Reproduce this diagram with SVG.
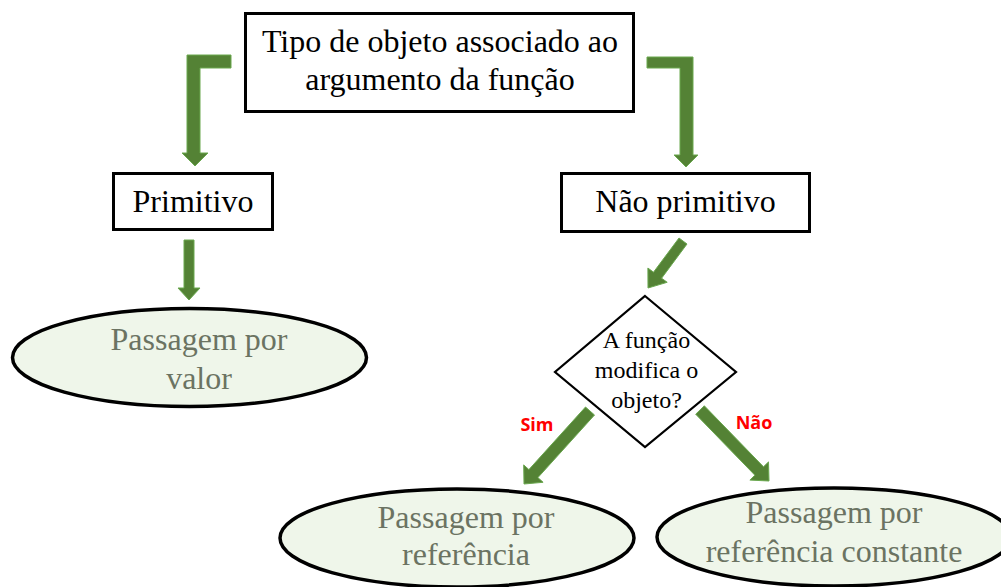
<svg xmlns="http://www.w3.org/2000/svg" width="1001" height="587" viewBox="0 0 1001 587">
<style>
.box{fill:#fff;stroke:#000;stroke-width:3}
.ell{fill:#eff6ea;stroke:#000;stroke-width:3.5}
.dia{fill:#fff;stroke:#000;stroke-width:2.2}
.t{font-family:"Liberation Serif","Times New Roman",serif;font-size:32px;fill:#000;text-anchor:middle}
.tg{font-family:"Liberation Serif","Times New Roman",serif;font-size:32px;fill:#6b7362;text-anchor:middle}
.td{font-family:"Liberation Serif","Times New Roman",serif;font-size:24px;fill:#000;text-anchor:middle}
.lbl{font-family:"Open Sans","Liberation Sans",Arial,sans-serif;font-size:18px;font-weight:bold;fill:#ff0000;text-anchor:middle}
.arr{fill:#548235;stroke:#6aa84f;stroke-width:1}
</style>
<g id="connectors">
<polygon class="arr" points="231,55 187,55 187,153 182,153 195,166 208,153 200,153 200,68 231,68"/>
<polygon class="arr" points="647,57 693,57 693,155 698,155 686,167 674,155 680,155 680,68 647,68"/>
<polygon class="arr" points="184,240 194,240 194,288 200,288 189,300 178,288 184,288"/>
<polygon class="arr" points="679,238 653.5,272.2 647.9,268 648,288 667.2,282.3 661.6,278.2 687,244"/>
<polygon class="arr" points="585.5,407 528.9,469.6 523.7,464.9 524,484 543.1,482.3 537.9,477.6 594.5,415"/>
<polygon class="arr" points="704.3,405.8 763.5,466.8 768.5,461.9 769,481 749.9,480.1 754.9,475.2 695.7,414.2"/>
<text class="lbl" x="537" y="431">Sim</text>
<text class="lbl" x="754" y="429">Não</text>
</g>
<g id="n-tipo">
<rect class="box" x="245.5" y="13.5" width="388" height="98"/>
<text class="t" x="440" y="52">Tipo de objeto associado ao</text>
<text class="t" x="440" y="90">argumento da função</text>
</g>
<g id="n-primitivo">
<rect class="box" x="113.5" y="173.5" width="159" height="56"/>
<text class="t" x="193" y="212">Primitivo</text>
</g>
<g id="n-nao-primitivo">
<rect class="box" x="561.5" y="173.5" width="248" height="58"/>
<text class="t" x="685.5" y="212">Não primitivo</text>
</g>
<g id="n-valor">
<ellipse class="ell" cx="189.5" cy="357.5" rx="177" ry="49"/>
<text class="tg" x="199" y="350">Passagem por</text>
<text class="tg" x="199" y="389">valor</text>
</g>
<g id="n-decisao">
<polygon class="dia" points="645,296 736,372 645,447 555,372"/>
<text class="td" x="646.5" y="348">A função</text>
<text class="td" x="646.5" y="378">modifica o</text>
<text class="td" x="646.5" y="408">objeto?</text>
</g>
<g id="n-referencia">
<ellipse class="ell" cx="457" cy="538" rx="177" ry="49"/>
<text class="tg" x="466" y="528">Passagem por</text>
<text class="tg" x="466" y="565">referência</text>
</g>
<g id="n-referencia-constante">
<ellipse class="ell" cx="834" cy="537" rx="177" ry="49"/>
<text class="tg" x="834" y="523">Passagem por</text>
<text class="tg" x="834" y="562">referência constante</text>
</g>
</svg>
